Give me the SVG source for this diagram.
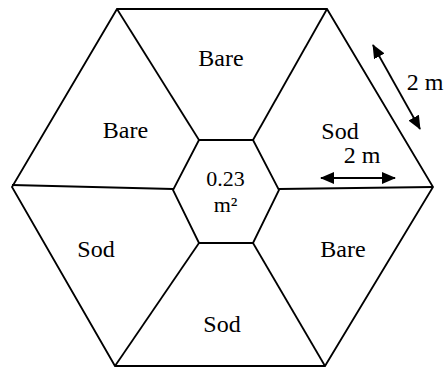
<svg xmlns="http://www.w3.org/2000/svg" width="446" height="369" viewBox="0 0 446 369">
<style>
.ln{fill:none;stroke:#000;stroke-width:1.8;stroke-linejoin:miter}
.ar{fill:none;stroke:#000;stroke-width:1.8}
text{font-family:"Liberation Serif","Times New Roman",serif;font-size:24px;fill:#000;text-anchor:middle}
.sm{font-size:22px}
</style>
<defs>
<marker id="ah" viewBox="0 0 14 12" refX="13" refY="6" markerWidth="14" markerHeight="12" markerUnits="userSpaceOnUse" orient="auto-start-reverse">
<path d="M0,0 L14,6 L0,12 Z" fill="#000"/>
</marker>
</defs>
<rect width="446" height="369" fill="#fff"/>
<g id="outer"><polygon class="ln" points="117,9 327,9 433,187 325,366 115,366 12,187"/></g>
<g id="center"><polygon class="ln" points="199,140 253,140 279,190 253,243 199,243 173,190"/>
<text class="sm" x="225.5" y="186">0.23</text>
<text class="sm" x="225.5" y="212">m²</text></g>
<g id="connectors">
<line class="ln" x1="117" y1="9" x2="199" y2="140"/>
<line class="ln" x1="327" y1="9" x2="253" y2="140"/>
<line class="ln" x1="12" y1="185" x2="173" y2="189"/>
<line class="ln" x1="279" y1="189" x2="433" y2="187"/>
<line class="ln" x1="199" y1="243" x2="115" y2="366"/>
<line class="ln" x1="253" y1="243" x2="325" y2="366"/>
</g>
<g id="sec-top"><text x="221" y="66">Bare</text></g>
<g id="sec-topleft"><text x="125.5" y="138">Bare</text></g>
<g id="sec-topright"><text x="340" y="139">Sod</text></g>
<g id="sec-botleft"><text x="96" y="257">Sod</text></g>
<g id="sec-botright"><text x="343" y="257">Bare</text></g>
<g id="sec-bottom"><text x="222" y="332">Sod</text></g>
<g id="dims">
<line class="ar" x1="373" y1="45" x2="420" y2="129" marker-start="url(#ah)" marker-end="url(#ah)"/>
<text x="425" y="90">2 m</text>
<line class="ar" x1="321" y1="178" x2="395" y2="178" marker-start="url(#ah)" marker-end="url(#ah)"/>
<text x="362" y="163">2 m</text>
</g>
</svg>
